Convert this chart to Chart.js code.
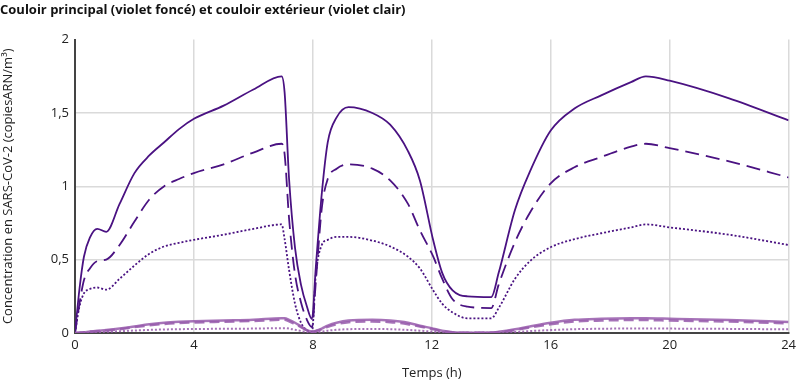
<!DOCTYPE html>
<html>
<head>
<meta charset="utf-8">
<script src="https://cdn.jsdelivr.net/npm/chart.js@4"></script>
<style>
  body { margin: 0; background: #fff; }
  #wrap { width: 800px; height: 381px; }
</style>
</head>
<body>
<div id="wrap"><canvas id="chart"></canvas></div>
<script>
// time grid (hours)
const hours = [0, 0.15, 0.3, 0.5, 0.75, 1.05, 1.5, 2, 2.5, 3, 3.5,
  4, 5, 6, 6.95, 7.05, 7.2, 7.4, 7.6, 7.8, 7.97,
  8.1, 8.3, 8.5, 8.8, 9.2, 10, 10.6, 11.2, 11.6, 12.05,
  12.35, 12.7, 13.2, 14.0, 14.25, 14.8, 15.3, 16, 16.8, 17.7,
  18.7, 19.2, 20, 22, 24];

// main corridor (dark violet)
const mainSolid = [0, 0.3, 0.52, 0.65, 0.71, 0.69, 0.88, 1.09, 1.21, 1.3, 1.39,
  1.46, 1.55, 1.66, 1.75, 1.64, 1.05, 0.58, 0.33, 0.18, 0.095,
  0.45, 0.95, 1.3, 1.47, 1.54, 1.5, 1.42, 1.24, 1.04, 0.63,
  0.41, 0.29, 0.25, 0.245, 0.41, 0.84, 1.1, 1.38, 1.53, 1.62,
  1.71, 1.75, 1.72, 1.6, 1.45];
const mainDashed = [0, 0.2, 0.36, 0.44, 0.49, 0.5, 0.6, 0.76, 0.91, 1.0, 1.05,
  1.09, 1.15, 1.23, 1.29, 1.22, 0.78, 0.4, 0.21, 0.09, 0.04,
  0.35, 0.85, 1.05, 1.12, 1.15, 1.12, 1.04, 0.88, 0.7, 0.52,
  0.37, 0.23, 0.18, 0.17, 0.33, 0.62, 0.82, 1.02, 1.13, 1.2,
  1.27, 1.29, 1.26, 1.17, 1.06];
const mainDotted = [0, 0.18, 0.27, 0.3, 0.31, 0.295, 0.37, 0.46, 0.54, 0.59, 0.615,
  0.635, 0.67, 0.71, 0.74, 0.64, 0.43, 0.2, 0.07, 0.02, 0.01,
  0.4, 0.6, 0.635, 0.655, 0.655, 0.63, 0.59, 0.52, 0.44, 0.29,
  0.2, 0.14, 0.1, 0.1, 0.17, 0.37, 0.49, 0.585, 0.64, 0.68,
  0.72, 0.74, 0.72, 0.67, 0.6];

// outer corridor (light violet)
const outerSolid = [0, 0.002, 0.005, 0.01, 0.015, 0.02, 0.03, 0.045, 0.06, 0.07, 0.076,
  0.08, 0.085, 0.09, 0.1, 0.1, 0.09, 0.07, 0.045, 0.02, 0.01,
  0.015, 0.03, 0.05, 0.07, 0.085, 0.09, 0.085, 0.07, 0.05, 0.03,
  0.015, 0.005, 0.002, 0.003, 0.008, 0.025, 0.045, 0.07, 0.09, 0.097,
  0.1, 0.1, 0.097, 0.088, 0.075];
const outerDashed = [0, 0.002, 0.004, 0.008, 0.012, 0.017, 0.026, 0.04, 0.052, 0.062, 0.068,
  0.072, 0.077, 0.082, 0.09, 0.09, 0.08, 0.06, 0.04, 0.018, 0.008,
  0.012, 0.025, 0.042, 0.06, 0.074, 0.078, 0.074, 0.06, 0.044, 0.025,
  0.012, 0.004, 0.002, 0.002, 0.006, 0.02, 0.038, 0.06, 0.078, 0.085,
  0.088, 0.088, 0.085, 0.078, 0.066];
const outerDotted = [0, 0.001, 0.002, 0.004, 0.006, 0.008, 0.012, 0.017, 0.021, 0.024, 0.026,
  0.027, 0.029, 0.03, 0.033, 0.033, 0.03, 0.022, 0.014, 0.006, 0.003,
  0.005, 0.01, 0.016, 0.022, 0.026, 0.028, 0.026, 0.021, 0.016, 0.009,
  0.005, 0.002, 0.001, 0.001, 0.002, 0.007, 0.013, 0.02, 0.026, 0.029,
  0.031, 0.031, 0.03, 0.028, 0.025];

const DARK = '#4a1282';
const LIGHT = 'rgba(150, 90, 172, 0.85)';
const FONT = '"Open Sans", "DejaVu Sans", sans-serif';

const pts = vals => vals.map((v, i) => ({ x: hours[i], y: v }));
const series = (vals, color, width, dash) => ({
  data: pts(vals),
  borderColor: color,
  borderWidth: width,
  borderDash: dash,
  pointRadius: 0,
  fill: false,
  cubicInterpolationMode: 'monotone'
});

new Chart(document.getElementById('chart'), {
  type: 'line',
  data: {
    datasets: [
      series(outerDotted, LIGHT, 2, [2, 2]),
      series(outerDashed, LIGHT, 2.5, [10, 5]),
      series(outerSolid, LIGHT, 2.5, []),
      series(mainDotted, DARK, 1.8, [2, 2]),
      series(mainDashed, DARK, 1.8, [14, 7]),
      series(mainSolid, DARK, 1.8, [])
    ]
  },
  options: {
    responsive: true,
    maintainAspectRatio: false,
    animation: false,
    layout: { padding: { left: 0, right: 10, top: 0, bottom: 0 } },
    plugins: {
      legend: { display: false },
      tooltip: { enabled: false },
      title: {
        display: true,
        text: 'Couloir principal (violet foncé) et couloir extérieur (violet clair)',
        align: 'start',
        color: '#111',
        font: { family: FONT, size: 13, weight: 'bold' },
        padding: { top: 2, bottom: 22 }
      }
    },
    scales: {
      x: {
        type: 'linear',
        min: 0,
        max: 24,
        ticks: {
          stepSize: 4,
          color: '#222',
          font: { family: FONT, size: 13 },
          padding: 4
        },
        grid: { color: '#dadada', lineWidth: 1.5, drawTicks: false },
        border: { color: '#444', width: 2 },
        title: {
          display: true,
          text: 'Temps (h)',
          color: '#222',
          font: { family: FONT, size: 13 },
          padding: { top: 2, bottom: 0 }
        },
        afterFit: s => { s.height = 48; }
      },
      y: {
        min: 0,
        max: 2,
        ticks: {
          stepSize: 0.5,
          color: '#222',
          font: { family: FONT, size: 13 },
          padding: 6,
          callback: v => String(v).replace('.', ',')
        },
        grid: {
          color: ctx => ctx.tick && ctx.tick.value === 2 ? 'rgba(0,0,0,0)' : '#dadada',
          lineWidth: 1.5,
          drawTicks: false
        },
        border: { color: '#444', width: 2 },
        title: {
          display: true,
          text: 'Concentration en SARS-CoV-2 (copiesARN/m³)',
          color: '#222',
          font: { family: FONT, size: 13 },
          padding: { top: 0, bottom: 4 }
        },
        afterFit: s => { s.width = 75; }
      }
    }
  }
});
</script>
</body>
</html>
